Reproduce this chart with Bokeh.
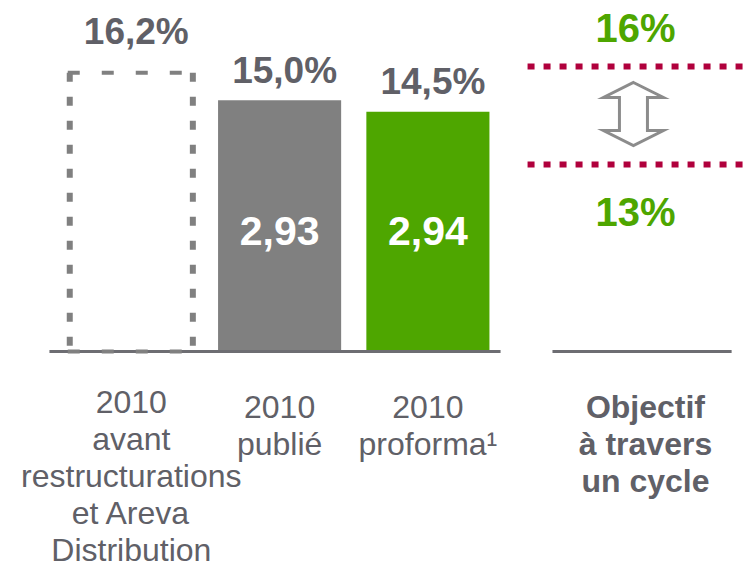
from bokeh.plotting import figure
from bokeh.models import Range1d
from bokeh.core.properties import value
from bokeh.embed import file_html
from bokeh.resources import INLINE

# ---- data ----
categories = ["2010\navant\nrestructurations\net Areva\nDistribution",
              "2010\npublié",
              "2010\nproforma¹"]
margin_pct = [16.2, 15.0, 14.5]
margin_labels = ["16,2%", "15,0%", "14,5%"]
inner_labels = ["", "2,93", "2,94"]
target_label = "Objectif\nà travers\nun cycle"
target_high = 16
target_low = 13
target_labels = ["16%", "13%"]

# ---- styles / layout ----
W, H = 745, 568
GRAY_TXT = "#606067"
GREEN = "#4ea600"
BAR_GRAY = "#808080"
CRIMSON = "#b0003c"
FONT = value("Liberation Sans")
BASE = 4.08          # floor of the (truncated) value axis
PXU = 148.3          # px per category unit
PYU = 23.0           # px per % unit (bars)
PTU = 32.667         # px per % unit (target panel)
BAR_W = 0.83

x_start = -130.8 / PXU
y_start = BASE - (H - 351) / PYU
t_start = target_low - (H - 164) / PTU

p = figure(width=W, height=H, output_backend="svg", toolbar_location=None,
           x_range=Range1d(x_start, x_start + W / PXU),
           y_range=Range1d(y_start, y_start + H / PYU),
           x_axis_location=None, y_axis_location=None,
           min_border=0, outline_line_color=None)
p.extra_y_ranges = {"target": Range1d(t_start, t_start + H / PTU)}
p.grid.visible = False

xs = list(range(len(categories)))

# solid bars (published / proforma)
p.vbar(x=xs[1:], top=margin_pct[1:], bottom=BASE, width=BAR_W,
       fill_color=[BAR_GRAY, GREEN], line_color=None)

# baselines
p.segment(x0=[-0.552, 2.84], x1=[2.49, 4.048], y0=[BASE, BASE], y1=[BASE, BASE],
          line_color="#6d6d72", line_width=3)

# dashed box for the "before" value
x0 = xs[0]
h = margin_pct[0]
p.segment(x0=[x0 - BAR_W / 2 - 2 / PXU, x0 - BAR_W / 2 - 2 / PXU],
          x1=[x0 + BAR_W / 2 + 2 / PXU, x0 + BAR_W / 2 + 2 / PXU],
          y0=[h, BASE], y1=[h, BASE],
          line_color=BAR_GRAY, line_width=4, line_dash="12 22")
p.segment(x0=[x0 - BAR_W / 2, x0 + BAR_W / 2], x1=[x0 - BAR_W / 2, x0 + BAR_W / 2],
          y0=[h, h], y1=[BASE, BASE],
          line_color=BAR_GRAY, line_width=6, line_dash="9 15")

# value labels above bars
p.text(x=xs, y=margin_pct, text=margin_labels, text_font=FONT,
       text_font_style="bold", text_font_size="37px", text_color=GRAY_TXT,
       text_align="center", text_baseline="alphabetic", x_offset=5,
       y_offset=[-41, -30, -30])

# values inside bars
p.text(x=xs[1:], y=[BASE] * 2, text=inner_labels[1:], text_font=FONT,
       text_font_style="bold", text_font_size="41px", text_color="white",
       text_align="center", text_baseline="middle", y_offset=-121)

# category labels
p.text(x=xs, y=[BASE] * 3, text=categories, text_font=FONT,
       text_font_size="32px", text_color=GRAY_TXT, text_align="center",
       text_baseline="top", text_line_height=1.03, y_offset=[32, 37, 37])

# target range
p.segment(x0=[2.672, 2.672], x1=[4.3, 4.3], y0=[target_high, target_low],
          y1=[target_high, target_low], y_range_name="target",
          line_color=CRIMSON, line_width=6, line_dash="7 9")

ax = 3.386
hw = 30 / PXU
sw = 14 / PXU
top_tip = target_high - 16 / PTU
top_base = target_high - 31 / PTU
bot_base = target_low + 34 / PTU
bot_tip = target_low + 19 / PTU
p.patch(x=[ax, ax + hw, ax + sw, ax + sw, ax + hw, ax, ax - hw, ax - sw, ax - sw, ax - hw],
        y=[top_tip, top_base, top_base, bot_base, bot_base, bot_tip, bot_base, bot_base, top_base, top_base],
        y_range_name="target", fill_color="white", line_color="#8c8c8c", line_width=3,
        line_join="miter")

p.text(x=[3.40, 3.40], y=[target_high, target_low], text=target_labels,
       y_range_name="target", text_font=FONT, text_font_style="bold",
       text_font_size="40px", text_color=GREEN, text_align="center",
       text_baseline="middle", y_offset=[-38, 47])

p.text(x=[3.467], y=[BASE], text=[target_label], text_font=FONT,
       text_font_style="bold", text_font_size="32px", text_color=GRAY_TXT,
       text_align="center", text_baseline="top", text_line_height=1.03, y_offset=37)

open("out.html", "w").write(file_html(p, INLINE))
